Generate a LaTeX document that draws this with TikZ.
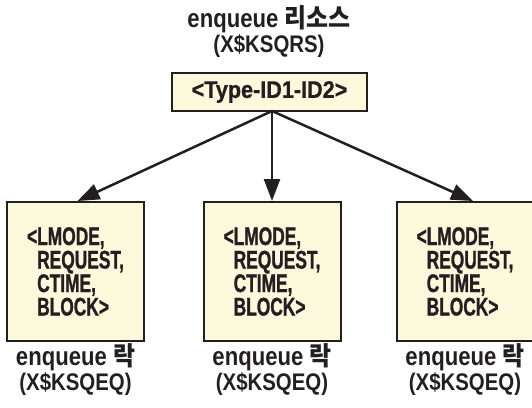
\documentclass[tikz,border=0pt]{standalone}
\usepackage{fontspec}
\setmainfont{Liberation Sans}[FakeStretch=0.85]
\newfontfamily\lblfont{Liberation Sans}[FakeStretch=0.85]
\newfontfamily\boxfont{Liberation Sans}[FakeStretch=0.68,FakeBold=1]
\newfontfamily\topfont{Liberation Sans}[FakeStretch=0.9,FakeBold=0.8]
\newfontfamily\kr{Noto Sans CJK KR}[FakeStretch=0.92]
\usetikzlibrary{arrows.meta}
\definecolor{boxfill}{HTML}{FCF8DC}
\definecolor{ink}{HTML}{231F20}
\newcommand{\bigline}[1]{{\fontsize{26}{25}\selectfont #1}}
\begin{document}
\begin{tikzpicture}[x=1pt,y=-1pt,
  lbl/.style={font=\lblfont\fontsize{24}{25}\selectfont\bfseries, text=ink, align=center, inner sep=0pt},
  topbox/.style={draw=ink, line width=2pt, fill=boxfill, minimum width=195pt, minimum height=38pt, inner sep=0pt,
     font=\topfont\fontsize{24}{24}\selectfont\bfseries, text=ink},
  lockbox/.style={draw=ink, line width=2pt, fill=boxfill, minimum width=137pt, minimum height=139pt, inner sep=0pt,
     font=\boxfont\fontsize{25.5}{23.5}\selectfont\bfseries, text=ink, align=left},
  conn/.style={draw=ink, line width=2.5pt, -{Triangle[length=22pt,width=16pt]}}
]
\useasboundingbox (0,0) rectangle (532,407);
\node[lbl] (title) at (269,32) {\bigline{enqueue {\kr 리소스}}\\(X\$KSQRS)};
\node[topbox] (res) at (269.5,92) {<Type-ID1-ID2>};
\node[lockbox] (l1) at (75.5,271.5) {<LMODE,\\\phantom{<}REQUEST,\\\phantom{<}CTIME,\\\phantom{<}BLOCK>};
\node[lockbox] (l2) at (272,271.5) {<LMODE,\\\phantom{<}REQUEST,\\\phantom{<}CTIME,\\\phantom{<}BLOCK>};
\node[lockbox] (l3) at (465,271.5) {<LMODE,\\\phantom{<}REQUEST,\\\phantom{<}CTIME,\\\phantom{<}BLOCK>};
\node[lbl] (c1) at (75.5,370) {\bigline{enqueue {\kr 락}}\\(X\$KSQEQ)};
\node[lbl] (c2) at (272,370) {\bigline{enqueue {\kr 락}}\\(X\$KSQEQ)};
\node[lbl] (c3) at (465,370) {\bigline{enqueue {\kr 락}}\\(X\$KSQEQ)};
\coordinate (src) at (272,111);
\draw[conn] (src) -- ([xshift=2pt]l1.north);
\draw[conn] (src) -- (l2.north);
\draw[conn] (src) -- ([xshift=8pt]l3.north);
\end{tikzpicture}
\end{document}
